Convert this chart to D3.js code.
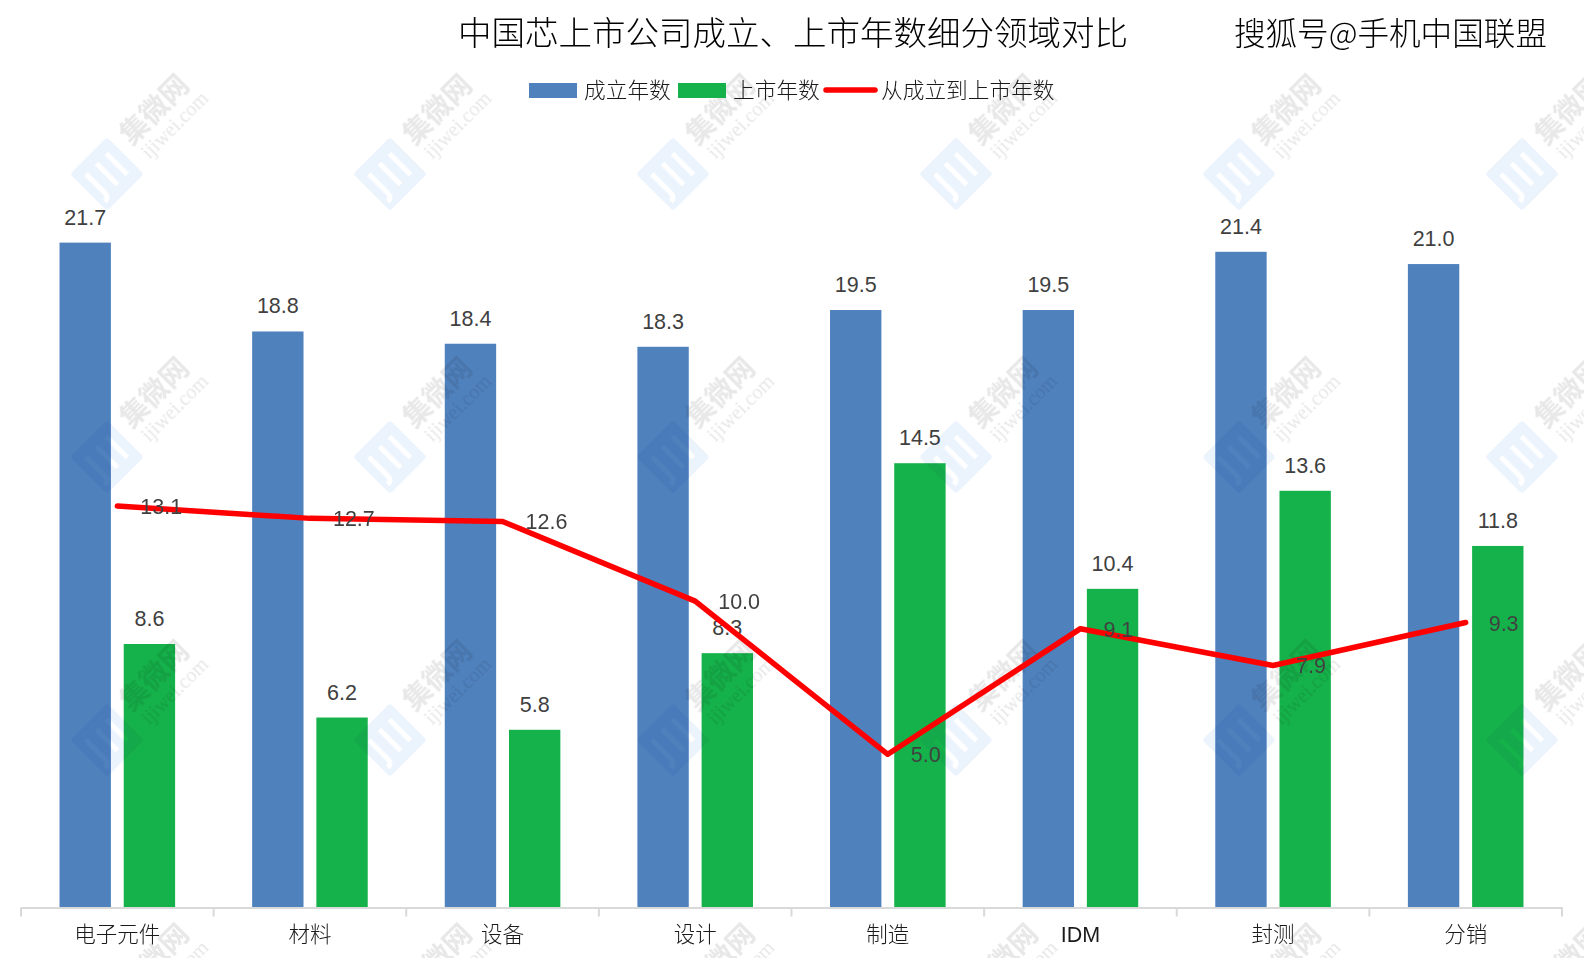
<!DOCTYPE html>
<html>
<head>
<meta charset="utf-8">
<title>中国芯上市公司成立、上市年数细分领域对比</title>
<script src="https://cdn.jsdelivr.net/npm/d3@7/dist/d3.min.js"></script>
<style>
html, body { margin: 0; padding: 0; background: #fff; }
svg { display: block; }
text { font-family: "Liberation Sans", "Noto Sans CJK SC", sans-serif; }
.cjk { font-family: "Noto Sans CJK SC", sans-serif; font-weight: 300; }
.axisLine { stroke: #d9d9d9; stroke-width: 2; }
.value { font-size: 21.5px; fill: #404040; }
.watermark { mix-blend-mode: multiply; }
</style>
</head>
<body>
<script>
(function(){

//chart values
var categories = ["电子元件", "材料", "设备", "设计", "制造", "IDM", "封测", "分销"];
var foundedYears = [21.7, 18.8, 18.4, 18.3, 19.5, 19.5, 21.4, 21.0];
var listedYears = [8.6, 6.2, 5.8, 8.3, 14.5, 10.4, 13.6, 11.8];
var gapYears = [13.1, 12.7, 12.6, 10.0, 5.0, 9.1, 7.9, 9.3];
var seriesNames = ["成立年数", "上市年数", "从成立到上市年数"];

//frame dimensions
var width = 1584,
    height = 958,
    axisLeft = 21,
    axisRight = 1562,
    baseline = 907.5,
    unitHeight = 30.64;

var blue = "#4f81bd",
    green = "#15b14a",
    red = "#ff0000";

var svg = d3.select("body")
    .append("svg")
    .attr("width", width)
    .attr("height", height);

//scales
var x = d3.scaleBand()
    .domain(categories)
    .range([axisLeft, axisRight]);

//gap width 150%, overlap -25%
var x1 = d3.scaleBand()
    .domain([0, 1])
    .range([x.step() * 0.2, x.step() * 0.8])
    .paddingInner(0.2);

var y = d3.scaleLinear()
    .domain([0, 25])
    .range([baseline, baseline - 25 * unitHeight]);

setBars(foundedYears, 0, blue);
setBars(listedYears, 1, green);
setWatermark();
setAxis();
setLine();
setLegend();
setTitles();

function setBars(values, index, color){
    svg.selectAll(".bar" + index)
        .data(values)
        .enter()
        .append("rect")
        .attr("class", "bar" + index)
        .attr("x", function(d, i){ return x(categories[i]) + x1(index); })
        .attr("y", function(d){ return y(d); })
        .attr("width", x1.bandwidth())
        .attr("height", function(d){ return y(0) - y(d); })
        .style("fill", color);

    svg.selectAll(".barLabel" + index)
        .data(values)
        .enter()
        .append("text")
        .attr("class", "value barLabel" + index)
        .attr("text-anchor", "middle")
        .attr("x", function(d, i){ return x(categories[i]) + x1(index) + x1.bandwidth() / 2; })
        .attr("y", function(d){ return y(d) - 18; })
        .text(function(d){ return d.toFixed(1); });
}

function setAxis(){
    var axis = svg.append("g")
        .attr("transform", "translate(0," + baseline + ")")
        .call(d3.axisBottom(x).tickSize(0).tickPadding(19));

    axis.select(".domain").attr("class", "axisLine");
    axis.selectAll("text")
        .attr("class", function(d){ return d == "IDM" ? null : "cjk"; })
        .style("font-size", "21.5px")
        .style("fill", "#1a1a1a");

    //ticks sit on the category boundaries
    svg.selectAll(".boundary")
        .data(d3.range(categories.length + 1))
        .enter()
        .append("line")
        .attr("class", "boundary axisLine")
        .attr("x1", function(d){ return axisLeft + d * x.step(); })
        .attr("x2", function(d){ return axisLeft + d * x.step(); })
        .attr("y1", baseline)
        .attr("y2", baseline + 9);
}

function setLine(){
    var line = d3.line()
        .x(function(d, i){ return x(categories[i]) + x.bandwidth() / 2; })
        .y(function(d){ return y(d); });

    svg.append("path")
        .datum(gapYears)
        .attr("d", line)
        .style("fill", "none")
        .style("stroke", red)
        .style("stroke-width", 5.5)
        .style("stroke-linecap", "round")
        .style("stroke-linejoin", "round");

    svg.selectAll(".lineLabel")
        .data(gapYears)
        .enter()
        .append("text")
        .attr("class", "value lineLabel")
        .attr("x", function(d, i){ return x(categories[i]) + x.bandwidth() / 2 + 23; })
        .attr("y", function(d){ return y(d) + 8; })
        .text(function(d){ return d.toFixed(1); });
}

function setLegend(){
    var legend = svg.append("g");

    legend.append("rect").attr("x", 529).attr("y", 83).attr("width", 48).attr("height", 15).style("fill", blue);
    legend.append("rect").attr("x", 678).attr("y", 83).attr("width", 48).attr("height", 15).style("fill", green);
    legend.append("line")
        .attr("x1", 826).attr("x2", 875).attr("y1", 90).attr("y2", 90)
        .style("stroke", red)
        .style("stroke-width", 5.5)
        .style("stroke-linecap", "round");

    legend.selectAll("text")
        .data(seriesNames)
        .enter()
        .append("text")
        .attr("class", "cjk")
        .attr("x", function(d, i){ return [584, 733, 881][i]; })
        .attr("y", 98)
        .style("font-size", "21.7px")
        .style("fill", "#1a1a1a")
        .text(function(d){ return d; });
}

function setTitles(){
    svg.append("text")
        .attr("class", "cjk")
        .attr("x", 793)
        .attr("y", 45)
        .attr("text-anchor", "middle")
        .style("font-size", "33.5px")
        .style("fill", "#000")
        .text("中国芯上市公司成立、上市年数细分领域对比");

    svg.append("text")
        .attr("class", "cjk")
        .attr("x", 1547)
        .attr("y", 45)
        .attr("text-anchor", "end")
        .style("font-size", "31.6px")
        .style("fill", "#000")
        .text("搜狐号@手机中国联盟");
}

//repeated site logo laid over the bars
function setWatermark(){
    var columns = d3.range(6),
        rows = d3.range(4);

    var layer = svg.append("g").attr("class", "watermark");

    rows.forEach(function(r){
        columns.forEach(function(c){
            var mark = layer.append("g")
                .attr("transform", "translate(" + (107 + c * 283) + "," + (174 + r * 283) + ") rotate(-45)");

            mark.append("rect")
                .attr("x", -26).attr("y", -26)
                .attr("width", 52).attr("height", 52)
                .attr("rx", 3)
                .style("fill", "#ebf3fd");

            //three white strokes inside the diamond, the first one hooked
            mark.append("path")
                .attr("d", "M-15,-15V12Q-15,18-21,18")
                .style("fill", "none")
                .style("stroke", "#fff")
                .style("stroke-width", 5);

            [0, 14].forEach(function(offset){
                mark.append("line")
                    .attr("x1", offset)
                    .attr("x2", offset)
                    .attr("y1", -15)
                    .attr("y2", 15)
                    .style("stroke", "#fff")
                    .style("stroke-width", 5);
            });

            mark.append("text")
                .attr("x", 37)
                .attr("y", -2)
                .style("font-family", "'Noto Sans CJK SC'")
                .style("font-weight", 700)
                .style("font-size", "28px")
                .style("fill", "#e8e8e8")
                .text("集微网");

            mark.append("text")
                .attr("x", 40)
                .attr("y", 20)
                .style("font-family", "'Liberation Serif'")
                .style("font-size", "20px")
                .style("fill", "#e8e8e8")
                .text("ijiwei.com");
        });
    });
}

})();
</script>
</body>
</html>
